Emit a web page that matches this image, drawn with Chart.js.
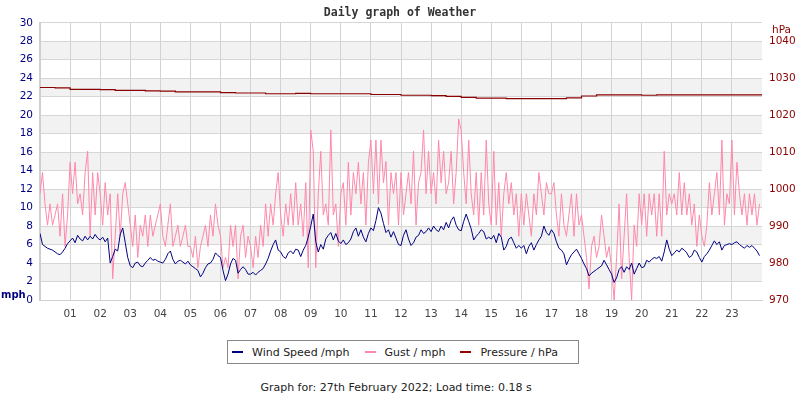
<!DOCTYPE html>
<html>
<head>
<meta charset="utf-8">
<script src="https://cdn.jsdelivr.net/npm/chart.js@4/dist/chart.umd.min.js"></script>
<style>
  body { margin: 0; background: #fff; font-family: "DejaVu Sans", sans-serif; }
  #wrap { position: relative; width: 800px; height: 400px; }
  #legend { position: absolute; left: 227px; top: 340px; width: 346px; height: 22px;
    border: 1px solid #888; display: flex; align-items: center; padding-left: 4px;
    font-size: 11px; color: #222; box-sizing: content-box; }
  #legend .item { display: flex; align-items: center; margin-right: 15px; white-space: nowrap; }
  #legend .sw { display: inline-block; width: 11px; height: 2px; margin-right: 9px; }
  #footer { position: absolute; left: 0; width: 792px; top: 381px; text-align: center;
    font-size: 11px; color: #222; }
</style>
</head>
<body>
<div id="wrap">
  <canvas id="weatherChart" width="800" height="330"></canvas>
  <div id="legend"></div>
  <div id="footer">Graph for: 27th February 2022; Load time: 0.18 s</div>
</div>
<script>
// readings every 5 minutes, 12 per hour
const windSpeed = [
  7.2, 6.0, 5.8, 5.6, 5.5, 5.4, 5.2, 5.0, 4.9, 5.2, 5.6, 6.1,
  6.4, 6.7, 6.2, 7.0, 6.6, 6.4, 6.9, 6.5, 6.9, 6.6, 7.1, 6.7,
  6.5, 6.8, 6.3, 6.7, 4.0, 4.7, 5.5, 5.3, 7.1, 7.8, 6.2, 4.6,
  3.7, 3.5, 4.0, 4.1, 3.7, 3.6, 4.0, 4.3, 4.6, 4.3, 4.4, 4.2,
  4.1, 4.0, 4.4, 5.0, 5.3, 4.4, 3.9, 4.2, 4.3, 4.1, 3.9, 4.2,
  3.8, 3.6, 3.4, 3.2, 2.5, 2.9, 3.5, 3.9, 4.0, 4.4, 5.1, 4.8,
  4.6, 3.2, 2.1, 2.8, 3.9, 4.5, 4.3, 2.9, 3.3, 3.6, 3.3, 2.8,
  2.8, 3.0, 2.7, 3.0, 3.2, 3.4, 3.9, 4.5, 5.3, 6.0, 6.5, 5.4,
  5.2, 4.7, 4.5, 5.1, 5.3, 5.0, 5.5, 5.4, 4.7, 5.4, 5.9, 6.8,
  8.0, 9.3, 6.3, 5.2, 6.0, 5.5, 6.6, 7.0, 7.3, 6.5, 7.2, 6.4,
  6.1, 6.5, 6.0, 6.2, 6.6, 7.4, 7.8, 6.9, 7.6, 6.8, 6.3, 7.2,
  7.8, 7.5, 8.6, 10.0, 9.4, 8.3, 7.3, 7.6, 6.8, 7.4, 6.7, 6.0,
  5.9, 7.0, 7.6, 6.6, 5.9, 6.2, 6.8, 7.0, 7.6, 7.2, 7.4, 7.8,
  7.4, 8.0, 7.6, 7.4, 8.0, 7.6, 8.4, 7.8, 8.6, 9.0, 8.1, 7.6,
  7.5, 8.5, 9.3, 8.5, 7.7, 6.5, 6.9, 7.2, 7.6, 7.4, 6.6, 6.8,
  6.6, 7.0, 6.2, 7.2, 6.8, 5.4, 5.8, 6.6, 6.8, 6.2, 5.6, 5.9,
  5.6, 5.9, 5.0, 5.8, 6.2, 5.4, 6.0, 6.5, 6.9, 8.0, 7.3, 7.0,
  7.6, 7.2, 6.3, 5.6, 5.4, 5.0, 3.8, 4.4, 4.9, 5.2, 5.5, 5.0,
  4.5, 3.9, 3.4, 2.6, 2.9, 3.1, 3.3, 3.5, 3.7, 4.3, 3.8, 3.3,
  2.8, 1.9, 2.4, 3.3, 3.6, 3.0, 3.6, 3.3, 4.0, 2.8, 3.4, 4.0,
  3.5, 3.6, 4.3, 4.1, 4.4, 4.6, 4.5, 4.7, 4.2, 5.2, 6.5, 5.5,
  4.8, 5.1, 5.4, 5.2, 5.6, 5.4, 5.1, 4.6, 4.8, 5.4, 5.2, 4.6,
  4.1, 4.7, 5.0, 5.4, 5.9, 6.4, 6.0, 6.3, 5.4, 5.9, 6.0, 6.1,
  6.0, 6.2, 6.3, 6.0, 5.8, 5.6, 5.9, 5.7, 5.9, 5.6, 5.3, 4.8
];

const gust = [
  11.5, 13.8, 10.4, 8.1, 10.4, 8.1, 9.2, 10.4, 6.9, 11.5, 5.8, 9.2,
  14.9, 11.5, 14.9, 10.4, 11.5, 9.2, 13.8, 16.1, 6.9, 13.8, 9.2, 13.8,
  11.5, 8.1, 12.7, 9.2, 11.5, 2.3, 6.9, 11.5, 6.9, 11.5, 12.7, 10.4,
  8.1, 5.8, 9.2, 4.6, 8.1, 6.9, 9.2, 5.8, 9.2, 6.9, 8.1, 9.2,
  10.4, 6.9, 5.8, 8.1, 10.4, 5.8, 6.9, 8.1, 5.8, 6.9, 8.1, 5.8,
  5.8, 4.6, 6.9, 3.5, 5.8, 6.9, 8.1, 5.8, 9.2, 6.9, 10.4, 8.1,
  6.9, 3.5, 4.6, 3.5, 8.1, 5.8, 8.1, 2.3, 6.9, 8.1, 4.6, 6.9,
  5.8, 3.5, 6.9, 4.6, 8.1, 5.8, 10.4, 6.9, 10.4, 8.1, 11.5, 13.8,
  9.2, 6.9, 10.4, 8.1, 11.5, 8.1, 12.7, 8.1, 10.4, 6.9, 12.7, 3.5,
  18.4, 16.1, 3.5, 11.5, 16.1, 9.2, 10.4, 8.1, 18.4, 9.2, 10.4, 5.8,
  11.5, 12.7, 8.1, 14.9, 9.2, 13.8, 11.5, 14.9, 10.4, 13.8, 8.1, 14.9,
  17.3, 11.5, 17.3, 10.4, 17.3, 12.7, 15.0, 8.1, 13.8, 11.5, 13.8, 8.1,
  13.8, 9.2, 11.5, 13.8, 10.4, 16.1, 8.1, 12.7, 13.8, 18.4, 11.5, 16.1,
  11.5, 13.8, 10.4, 17.3, 12.7, 16.1, 11.5, 12.7, 16.1, 10.4, 13.8, 19.6,
  18.4, 13.8, 10.4, 17.3, 11.5, 9.2, 13.8, 8.1, 13.8, 9.2, 17.3, 10.4,
  8.1, 16.1, 8.1, 12.7, 6.9, 11.5, 13.8, 10.4, 12.7, 9.2, 11.5, 6.9,
  11.5, 8.1, 11.5, 9.2, 6.9, 11.5, 9.2, 13.8, 11.5, 9.2, 12.7, 11.5,
  11.5, 12.7, 9.2, 6.9, 11.5, 8.1, 6.9, 9.2, 11.5, 6.9, 11.5, 8.1,
  9.2, 6.9, 4.6, 1.2, 5.8, 6.9, 4.6, 5.8, 9.2, 6.9, 4.6, 5.8,
  3.5, 0, 4.6, 10.4, 2.3, 6.9, 11.5, 4.6, 0, 8.1, 5.8, 11.5,
  8.1, 11.5, 6.9, 11.5, 9.2, 11.5, 6.9, 11.5, 6.9, 16.1, 9.2, 11.5,
  10.4, 11.5, 9.2, 13.8, 9.2, 12.7, 9.2, 11.5, 8.1, 10.4, 5.8, 9.2,
  6.9, 5.8, 8.1, 12.7, 9.2, 11.5, 13.8, 9.2, 17.3, 8.1, 11.5, 10.4,
  17.3, 9.2, 14.9, 11.5, 9.2, 11.5, 8.1, 11.5, 9.2, 11.5, 8.1, 10.4
];

// half-hourly, 00:00 to 24:00
const pressure = [
  1027.5, 1027.4, 1027.0, 1027.0, 1026.9, 1026.7, 1026.7, 1026.6,
  1026.5, 1026.3, 1026.3, 1026.3, 1026.1, 1026.0, 1026.0, 1025.8,
  1025.8, 1025.9, 1025.8, 1025.8, 1025.8, 1025.8, 1025.6, 1025.6,
  1025.4, 1025.4, 1025.3, 1025.1, 1024.8, 1024.6, 1024.6, 1024.5,
  1024.5, 1024.5, 1024.5, 1024.7, 1025.2, 1025.5, 1025.5, 1025.5,
  1025.4, 1025.5, 1025.5, 1025.5, 1025.5, 1025.5, 1025.5, 1025.5,
  1025.5
];

const hourTicks = ['01','02','03','04','05','06','07','08','09','10','11','12',
  '13','14','15','16','17','18','19','20','21','22','23'];

const windColor = '#000080';
const gustColor = '#ff88aa';
const pressColor = '#8b0000';

const toPoints = (vals, stepHours) => vals.map((v, i) => ({ x: i * stepHours, y: v }));

// alternating grey bands + the small unit labels
const bandsPlugin = {
  id: 'bands',
  beforeDraw(chart) {
    const { ctx, chartArea: a, scales: { y } } = chart;
    ctx.save();
    ctx.fillStyle = '#f2f2f2';
    for (let v = 2; v < 30; v += 4) {
      const top = y.getPixelForValue(v + 2);
      const bot = y.getPixelForValue(v);
      ctx.fillRect(a.left, top, a.right - a.left, bot - top);
    }
    ctx.restore();
  },
  afterDraw(chart) {
    const { ctx, chartArea: a } = chart;
    ctx.save();
    ctx.textBaseline = 'middle';
    ctx.font = 'bold 10px "DejaVu Sans"';
    ctx.fillStyle = windColor;
    ctx.textAlign = 'left';
    ctx.fillText('mph', 1, a.bottom - 5);
    ctx.font = '10.5px "DejaVu Sans"';
    ctx.fillStyle = pressColor;
    ctx.fillText('hPa', a.right + 10, a.top + 7);
    ctx.restore();
  }
};

new Chart(document.getElementById('weatherChart'), {
  type: 'line',
  data: {
    datasets: [
      {
        label: 'Wind Speed /mph',
        data: toPoints(windSpeed, 5 / 60),
        borderColor: windColor,
        borderWidth: 1,
        pointRadius: 0,
        yAxisID: 'y',
        order: 1
      },
      {
        label: 'Gust / mph',
        data: toPoints(gust, 5 / 60),
        borderColor: gustColor,
        borderWidth: 1,
        pointRadius: 0,
        yAxisID: 'y',
        order: 2
      },
      {
        label: 'Pressure / hPa',
        data: toPoints(pressure, 0.5),
        borderColor: pressColor,
        borderWidth: 1.2,
        pointRadius: 0,
        stepped: true,
        yAxisID: 'y2',
        order: 0
      }
    ]
  },
  options: {
    responsive: false,
    animation: false,
    scales: {
      x: {
        type: 'linear',
        min: 0,
        max: 24,
        afterFit: s => { s.height = 30; },
        grid: {
          color: ctx => (ctx.tick && ctx.tick.value === 24 ? 'rgba(0,0,0,0)' : '#d2d2d2'),
          drawTicks: false
        },
        border: { color: '#cfcfcf' },
        ticks: {
          stepSize: 1,
          autoSkip: false,
          maxRotation: 0,
          padding: 8,
          color: '#444',
          font: { family: 'DejaVu Sans', size: 10.5 },
          callback: v => hourTicks[v - 1] || ''
        }
      },
      y: {
        position: 'left',
        min: 0,
        max: 30,
        afterFit: s => { s.width = 40; },
        grid: { color: '#d6d6d6', drawTicks: false },
        border: { color: '#cfcfcf', width: 2 },
        ticks: {
          stepSize: 2,
          padding: 7,
          color: windColor,
          font: { family: 'DejaVu Sans', size: 10.5 }
        }
      },
      y2: {
        position: 'right',
        min: 970,
        max: 1045,
        afterFit: s => { s.width = 38; },
        grid: { display: false, drawTicks: false },
        border: { display: false },
        ticks: {
          stepSize: 10,
          includeBounds: false,
          padding: 7,
          color: pressColor,
          font: { family: 'DejaVu Sans', size: 10.5 },
          callback: v => String(v)
        }
      }
    },
    plugins: {
      title: {
        display: true,
        text: 'Daily graph of Weather',
        color: '#333',
        font: { family: 'DejaVu Sans Mono', size: 11.5, weight: 'bold', lineHeight: 1.2 },
        padding: { top: 6, bottom: 3 }
      },
      legend: { display: false },
      tooltip: { enabled: false }
    }
  },
  plugins: [bandsPlugin]
});

// html legend box under the chart
const legend = document.getElementById('legend');
[['Wind Speed /mph', windColor], ['Gust / mph', gustColor], ['Pressure / hPa', '#990000']].forEach(([name, col]) => {
  const item = document.createElement('span');
  item.className = 'item';
  item.innerHTML = '<span class="sw" style="background:' + col + '"></span>' + name;
  legend.appendChild(item);
});
</script>
</body>
</html>
